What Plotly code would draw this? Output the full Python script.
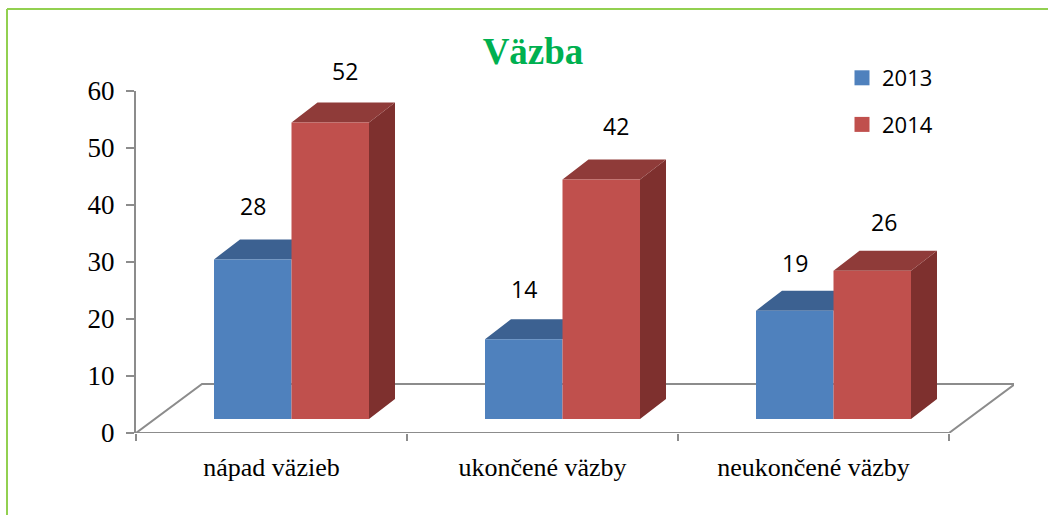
import plotly.graph_objects as go

categories = ["nápad väzieb", "ukončené väzby", "neukončené väzby"]
series_names = ["2013", "2014"]
values_2013 = [28, 14, 19]
values_2014 = [52, 42, 26]
y_ticks = [0, 10, 20, 30, 40, 50, 60]

W, H = 1048, 515
L, R, T, B = 136, 1014, 91, 433
cat_px = 271.0
px_x = 1 / cat_px
px_y = 60 / (B - T)

front_base = 14.0 * px_y
dx, dy = 26 * px_x, 20 * px_y
floor_dx, floor_dy = 66 * px_x, 49 * px_y
bar_start, bar_w = 78 * px_x, 77.5 * px_x

GRAY = "#8c8c8c"
BLUE, BLUE_TOP = "#4f81bd", "#3c6191"
RED, RED_TOP, RED_SIDE = "#c0504d", "#8f3b39", "#7e302e"

lift_2013, shift_2013 = [53, 50, 48], [0, 0, 0]
lift_2014, shift_2014 = [52, 54, 49], [15, 15, 12]


def polys(values, start, kind):
    xs, ys = [], []
    for i, v in enumerate(values):
        x0 = i + start
        x1 = x0 + bar_w
        y0 = front_base
        y1 = front_base + v
        if kind == "front":
            px = [x0, x1, x1, x0, x0]
            py = [y0, y0, y1, y1, y0]
        elif kind == "top":
            px = [x0, x1, x1 + dx, x0 + dx, x0]
            py = [y1, y1, y1 + dy, y1 + dy, y1]
        else:
            px = [x1, x1 + dx, x1 + dx, x1, x1]
            py = [y0, y0 + dy, y1 + dy, y1, y0]
        xs += px + [None]
        ys += py + [None]
    return xs, ys


def face(values, start, kind, color):
    xs, ys = polys(values, start, kind)
    return go.Scatter(x=xs, y=ys, mode="lines", fill="toself", fillcolor=color,
                      line=dict(width=0, color=color), showlegend=False,
                      hoverinfo="skip", cliponaxis=False)


fig = go.Figure()
n = len(categories)
fig.add_trace(go.Scatter(
    x=[0, floor_dx, n + floor_dx, n, 0],
    y=[0, floor_dy, floor_dy, 0, 0],
    mode="lines", line=dict(color=GRAY, width=2),
    showlegend=False, hoverinfo="skip", cliponaxis=False))

red_start = bar_start + bar_w
fig.add_trace(face(values_2013, bar_start, "top", BLUE_TOP))
fig.add_trace(face(values_2013, bar_start, "front", BLUE))
fig.add_trace(face(values_2014, red_start, "side", RED_SIDE))
fig.add_trace(face(values_2014, red_start, "top", RED_TOP))
fig.add_trace(face(values_2014, red_start, "front", RED))

annotations = []
for values, start, lifts, shifts in ((values_2013, bar_start, lift_2013, shift_2013),
                                     (values_2014, red_start, lift_2014, shift_2014)):
    for i, v in enumerate(values):
        annotations.append(dict(
            x=i + start + bar_w / 2, y=v + front_base, xref="x", yref="y",
            text=str(v), showarrow=False, xshift=shifts[i], yshift=lifts[i],
            xanchor="center", yanchor="middle",
            font=dict(family="Open Sans", size=23, color="#000000")))

for name, col in zip(series_names, [BLUE, RED]):
    fig.add_trace(go.Scatter(x=[None], y=[None], mode="markers", name=name, legendgroup=name,
                             marker=dict(symbol="square", size=15, color=col)))


def hline(x0, y0, x1, y1):
    return dict(type="line", xref="paper", yref="paper",
                x0=(x0 - L) / (R - L), x1=(x1 - L) / (R - L),
                y0=(B - y0) / (B - T), y1=(B - y1) / (B - T),
                line=dict(color="#92d050", width=2), layer="below")


fig.update_layout(
    width=W, height=H,
    margin=dict(l=L, r=W - R, t=T, b=H - B),
    paper_bgcolor="white", plot_bgcolor="white",
    title=dict(text="<b>Väzba</b>", x=533 / W, xanchor="center", y=1 - 51 / H, yanchor="middle",
               font=dict(family="Liberation Serif", size=37, color="#00b050")),
    xaxis=dict(range=[0, (R - L) / cat_px], tickmode="array", tickvals=[0.5, 1.5, 2.5],
               ticktext=categories, ticks="", showgrid=False, zeroline=False, showline=False,
               tickfont=dict(family="Liberation Serif", size=26, color="#000000"),
               ticklabelstandoff=16,
               minor=dict(tickmode="array", tickvals=[0, 1, 2, 3], ticks="outside",
                          ticklen=7, tickwidth=1.5, tickcolor=GRAY, showgrid=False)),
    yaxis=dict(range=[0, 60], tickmode="array", tickvals=y_ticks, ticks="outside",
               ticklen=8, tickwidth=1.5, tickcolor=GRAY, showgrid=False, zeroline=False,
               showline=True, linecolor=GRAY, linewidth=2,
               tickfont=dict(family="Liberation Serif", size=27, color="#000000"),
               ticklabelstandoff=6),
    legend=dict(x=(842 - L) / (R - L), xanchor="left", y=(B - 57) / (B - T), yanchor="top",
                font=dict(family="Open Sans", size=22, color="#000000"),
                tracegroupgap=15, bgcolor="rgba(0,0,0,0)"),
    annotations=annotations,
    shapes=[hline(7, 9, W, 9), hline(7, 9, 7, H)],
    hovermode=False,
)
fig.write_html("out.html", config={"displayModeBar": False},
               post_script="document.body.style.margin='0';document.body.style.overflow='hidden';")
